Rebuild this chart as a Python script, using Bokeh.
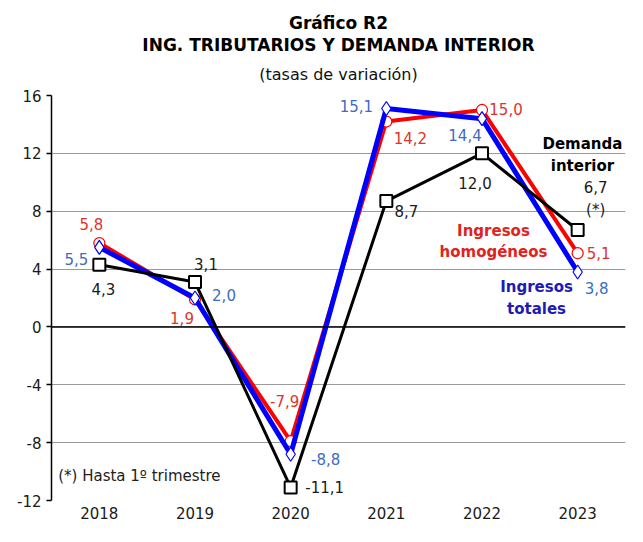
from bokeh.plotting import figure
from bokeh.models import Range1d, FactorRange, FixedTicker, Span, Label, Title, ColumnDataSource
from bokeh.embed import file_html
from bokeh.resources import INLINE
from bokeh.core.properties import value

# ---- data ----
years = ["2018", "2019", "2020", "2021", "2022", "2023"]
ing_homogeneos = [5.8, 1.9, -7.9, 14.2, 15.0, 5.1]
ing_totales = [5.5, 2.0, -8.8, 15.1, 14.4, 3.8]
demanda_interior = [4.3, 3.1, -11.1, 8.7, 12.0, 6.7]
demanda_suffix = ["", "", "", "", "", "\n(*)"]
y_ticks = [-12, -8, -4, 0, 4, 8, 12, 16]

FONT = "DejaVu Sans"

def fmt(v):
    return f"{v:.1f}".replace(".", ",")

p = figure(x_range=FactorRange(*years), y_range=Range1d(-12, 16),
           width=627, height=526, output_backend="svg", toolbar_location=None,
           min_border_left=51, min_border_right=2, min_border_bottom=26, min_border_top=95)
p.outline_line_color = None
p.background_fill_color = "white"

# titles (p.title is outermost; first added is closest to the frame)
p.title.text = "Gráfico R2"
p.title.align = "center"
p.title.offset = -20
p.title.text_font = FONT
p.title.text_font_size = "17px"
p.title.text_font_style = "bold"
p.title.text_color = "black"
p.title.standoff = 0
p.add_layout(Title(text="(tasas de variación)", align="center", offset=-10, text_font=FONT,
                   text_font_size="16px", text_font_style="normal", text_color="#111111",
                   vertical_align="top", standoff=20), "above")
p.add_layout(Title(text="ING. TRIBUTARIOS Y DEMANDA INTERIOR", align="center", offset=-18,
                   text_font=FONT, text_font_size="17px", text_font_style="bold",
                   text_color="black", standoff=0), "above")

# axes
p.yaxis.ticker = FixedTicker(ticks=y_ticks)
p.yaxis.major_label_overrides = {t: str(t) for t in y_ticks}
p.yaxis.major_label_text_font = FONT
p.yaxis.major_label_text_font_size = "15px"
p.yaxis.major_label_text_color = "#1a1a1a"
p.yaxis.axis_line_color = "black"
p.yaxis.axis_line_width = 1.5
p.yaxis.major_tick_line_color = "black"
p.yaxis.major_tick_line_width = 1.5
p.yaxis.major_tick_out = 5
p.yaxis.major_tick_in = 0
p.yaxis.minor_tick_line_color = None
p.yaxis.major_label_standoff = 5

p.xaxis.axis_line_color = None
p.xaxis.major_tick_line_color = None
p.xaxis.major_tick_out = 0
p.xaxis.major_tick_in = 0
p.xaxis.minor_tick_line_color = None
p.xaxis.major_label_text_font = FONT
p.xaxis.major_label_text_font_size = "15px"
p.xaxis.major_label_text_color = "#1a1a1a"
p.xaxis.major_label_standoff = 6

p.xgrid.grid_line_color = None
p.ygrid.grid_line_color = "#9a9a9a"
p.ygrid.grid_line_width = 1
p.add_layout(Span(location=0, dimension="width", line_color="black", line_width=1.5))

series = [
    dict(vals=ing_homogeneos, line="#ff0000", lw=4, marker="circle", size=11, mlw=1.2,
         lab_color="#e0332b", suffix=[""] * 6,
         offs=[(-8, -19), (-13, 19), (-6, -40), (24, 16), (24, -1), (21, 0)]),
    dict(vals=ing_totales, line="#0000ff", lw=5, marker="diamond", size=14, mlw=1.2,
         lab_color="#3c6cc0", suffix=[""] * 6,
         offs=[(-23, 12), (29, -3), (35, 5), (-30, -3), (-17, 16), (19, 16)]),
    dict(vals=demanda_interior, line="#000000", lw=3, marker="square", size=12, mlw=2,
         lab_color="#1a1a1a", suffix=demanda_suffix,
         offs=[(4, 24), (11, -18), (34, 0), (20, 10), (-7, 30), (18, -31)]),
]

for s in series:
    src = ColumnDataSource(dict(x=years, y=s["vals"],
                                lab=[fmt(v) + suf for v, suf in zip(s["vals"], s["suffix"])],
                                dx=[o[0] for o in s["offs"]], dy=[o[1] for o in s["offs"]]))
    p.line("x", "y", source=src, line_color=s["line"], line_width=s["lw"])
    p.scatter("x", "y", source=src, marker=s["marker"], size=s["size"], fill_color="white",
              line_color=s["line"], line_width=s["mlw"])
    p.text("x", "y", text="lab", source=src, x_offset="dx", y_offset="dy",
           text_align="center", text_baseline="middle", text_color=s["lab_color"],
           text_font=value(FONT), text_font_size="15px", text_line_height=1.2)

# series name annotations
for txt, x, y, col in [("Demanda\ninterior", 5.55, 11.9, "#000000"),
                       ("Ingresos\nhomogéneos", 4.62, 5.92, "#e0231c"),
                       ("Ingresos\ntotales", 5.07, 2.0, "#1c1cb4")]:
    p.add_layout(Label(x=x, y=y, text=txt, text_align="center", text_baseline="middle",
                       text_font=FONT, text_font_size="15px", text_font_style="bold",
                       text_color=col, text_line_height=1.2))

p.add_layout(Label(x=0.07, y=-10.3, text="(*) Hasta 1º trimestre", text_align="left",
                   text_baseline="middle", text_font=FONT, text_font_size="15px",
                   text_color="#222222"))

open("out.html", "w").write(file_html(p, INLINE))
